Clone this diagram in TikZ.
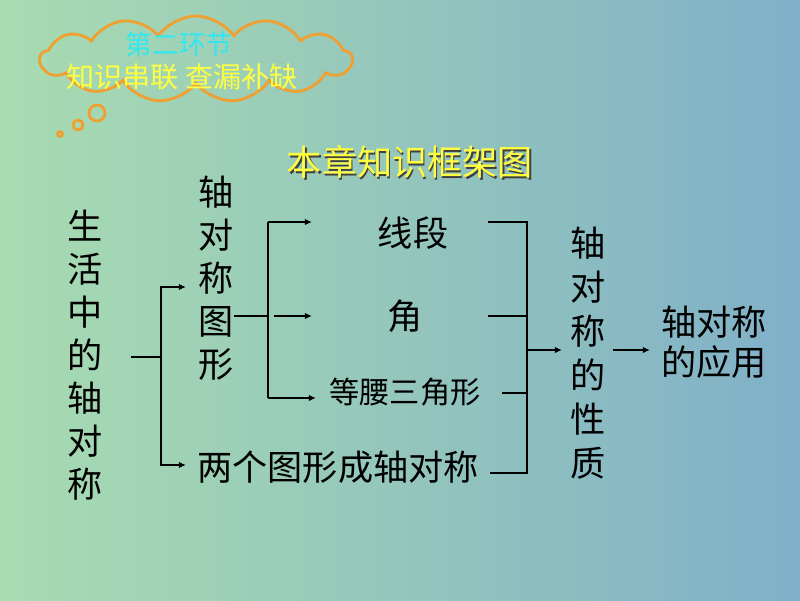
\documentclass[tikz,border=0pt]{standalone}
\usepackage{fontspec}
\setmainfont{Noto Sans CJK SC}
\usetikzlibrary{arrows.meta, positioning, shapes.symbols, calc}
\definecolor{bgleft}{HTML}{A8DCB0}
\definecolor{bgright}{HTML}{80B0C8}
\definecolor{cloudorange}{HTML}{F0A030}
\definecolor{titleyellow}{HTML}{FFFF40}
\definecolor{stagecyan}{HTML}{30E8F0}
\newcommand{\shadowed}[3]{\rlap{\kern0.9pt\raisebox{-0.9pt}{\color{#2}#3}}{\color{#1}#3}}

\begin{document}
\begin{tikzpicture}[x=0.025cm, y=-0.025cm,
    big/.style={font=\fontsize{25}{30.6}\selectfont, text=black,
                align=center, inner sep=0pt},
    small/.style={font=\fontsize{21.5}{26}\selectfont, text=black,
                  inner sep=0pt},
    bubble/.style={circle, draw=cloudorange, line width=2pt, inner sep=0pt},
    link/.style={line width=1.3pt, black},
    arr/.style={link, -{Latex[length=5pt, width=4.5pt]}}
  ]
    % Background
    \useasboundingbox (0,0) rectangle (800,600);
    \shade[left color=bgleft, right color=bgright] (0,0) rectangle (800,600);

    % Thought cloud
    \node[cloud, cloud puffs=13, cloud puff arc=110, aspect=3.8,
          draw=cloudorange, line width=2pt,
          minimum width=7.8cm, minimum height=2.15cm] (cloud) at (196,59) {};
    \node[bubble, minimum size=0.4cm]  (b1) at (97,113) {};
    \node[bubble, minimum size=0.25cm] (b2) at (78,125) {};
    \node[bubble, minimum size=0.12cm] (b3) at (60,134) {};
    \node[font=\fontsize{19}{21}\selectfont, text=stagecyan] (stage) at (179,44)
      {第二环节};
    \node[font=\fontsize{20}{22}\selectfont, text=titleyellow] (review) at (182,77)
      {知识串联 查漏补缺};

    % Title
    \node[font=\fontsize{25}{30}\selectfont] (title) at (410,163)
      {\shadowed{titleyellow}{black!75}{本章知识框架图}};

    % Left column
    \node[big] (life)  at (85,355) {生\\活\\中\\的\\轴\\对\\称};
    \node[big] (axfig) at (216,278) {轴\\对\\称\\图\\形};
    \node[big] (pair)  at (338,467) {两个图形成轴对称};

    % Middle column
    \node[big]   (seg)   at (413,233) {线段};
    \node[big]   (angle) at (405,316) {角};
    \node[small] (iso)   at (405,392) {等腰三角形};

    % Right column
    \node[big, font=\fontsize{25}{31.3}\selectfont] (prop) at (588,353)
      {轴\\对\\称\\的\\性\\质};
    \node[big, font=\fontsize{25}{28.5}\selectfont] (app) at (714,342)
      {轴对称\\的应用};

    % Junctions and arrow ends
    \coordinate (jl)  at (161,357);
    \coordinate (jm)  at (268,316);
    \coordinate (jr)  at (527,350);
    \coordinate (toaxfig) at (186,287);
    \coordinate (topair)  at (186,465);
    \coordinate (toseg)   at (312,222);
    \coordinate (toangle) at (312,316);
    \coordinate (toiso)   at (316,398);
    \coordinate (fromseg)   at (488,222);
    \coordinate (fromangle) at (488,316);
    \coordinate (fromiso)   at (502,393);
    \coordinate (frompair)  at (490,473);
    \coordinate (toprop)    at (562,350);
    \coordinate (fromprop)  at (613,350);
    \coordinate (toapp)     at (650,350);

    % Life -> two branches
    \draw[link] ([xshift=0.7cm]life.east |- jl) -- (jl);
    \draw[arr] (jl) |- (toaxfig);
    \draw[arr] (jl) |- (topair);

    % Figure -> segment, angle, isosceles triangle
    \draw[link] (axfig.east |- jm) -- (jm);
    \draw[link] (jm |- toseg) -- (jm |- toiso);
    \draw[arr] (jm |- toseg) -- (toseg);
    \draw[arr] ([xshift=0.15cm]jm) -- (toangle);
    \draw[arr] (jm |- toiso) -- (toiso);

    % Bracket into properties
    \draw[link] (fromseg) -| (jr);
    \draw[link] (frompair) -| (jr);
    \draw[link] (fromangle) -- (fromangle -| jr);
    \draw[link] (fromiso) -- (fromiso -| jr);
    \draw[arr] (jr) -- (toprop);
    \draw[arr] (fromprop) -- (toapp);
\end{tikzpicture}
\end{document}
